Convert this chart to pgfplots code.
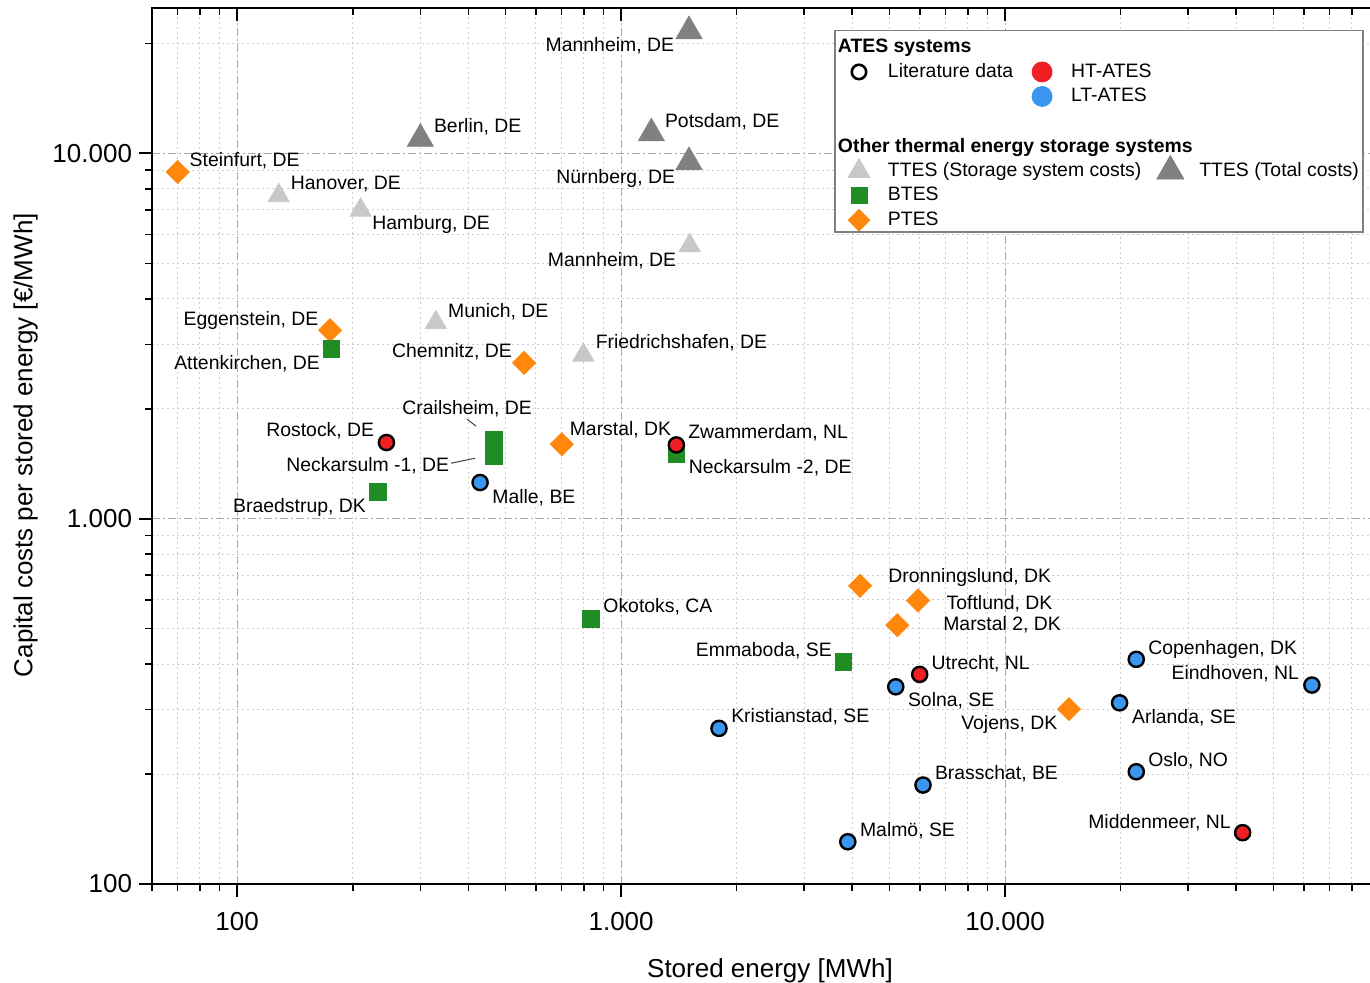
\documentclass[border=0pt]{standalone}
\usepackage{fontspec}
\setmainfont{Liberation Sans}
\usepackage{pgfplots}
\pgfplotsset{compat=1.18}

\definecolor{htred}{RGB}{238,32,36}
\definecolor{ltblue}{RGB}{58,150,240}
\definecolor{ttlight}{RGB}{200,200,200}
\definecolor{ttdark}{RGB}{128,128,128}
\definecolor{btgreen}{RGB}{32,140,36}
\definecolor{ptorange}{RGB}{255,135,12}
\definecolor{majgrid}{RGB}{170,170,170}
\definecolor{mingrid}{RGB}{205,205,205}

\newcommand\lblf{\fontsize{9.7bp}{11.5bp}\selectfont}
\newcommand\axf{\fontsize{13bp}{15.5bp}\selectfont}
\newcommand\lab[6]{\node[anchor=#3,inner sep=0pt,outer sep=0pt,font=\lblf,xshift=#4bp,yshift=#5bp] at (axis cs:#1,#2) {#6};}
\newcommand\blankbox{\path[draw=none,fill=none] (-7.5bp,-6.125bp) rectangle (7.5bp,6.125bp);}

\begin{document}
\begin{tikzpicture}
\begin{axis}[name=ax,
  scale only axis, width=611.5bp, height=438bp,
  xmode=log, ymode=log, xmin=60, xmax=92000, ymin=100, ymax=25000,
  xtick={100,1000,10000}, ytick={100,1000,10000},
  minor xtick={60,70,80,90,200,300,400,500,600,700,800,900,2000,3000,4000,5000,6000,7000,8000,9000,20000,30000,40000,50000,60000,70000,80000,90000},
  minor ytick={200,300,400,500,600,700,800,900,2000,3000,4000,5000,6000,7000,8000,9000,20000},
  major tick length=6.5bp, minor tick length=3.5bp,
  major tick style={black,line width=1bp}, minor tick style={black,line width=0.8bp},
  axis line style={black,line width=1.2bp},
  xtick pos=left, ytick pos=left, tick align=outside,
  xticklabels={100,1.000,10.000}, yticklabels={100,1.000,10.000},
  ticklabel style={font=\axf},
  xticklabel style={yshift=-4bp},
  grid=both,
  major grid style={majgrid, line width=0.5bp, dash pattern=on 4bp off 1.5bp on 1bp off 1.5bp},
  minor grid style={mingrid, line width=0.5bp, dash pattern=on 1bp off 1.5bp},
  xlabel={Stored energy [MWh]}, ylabel={Capital costs per stored energy [€/MWh]},
  label style={font=\axf},
  xlabel style={at={(axis description cs:0.5053,-0.0993)}, anchor=center},
  ylabel style={at={(axis description cs:-0.1034,0.501)}, anchor=center},
  legend cell align=left, legend columns=2,
  legend style={draw=none, fill=none, inner sep=0pt, outer sep=0pt, column sep=4bp, row sep=0pt,
    at={(0.5658,0.9689)}, anchor=north west, font=\lblf,
    nodes={inner xsep=3bp, inner ysep=0pt, text depth=0.15em}},
]
% TTES (storage system costs)
\addplot[forget plot, only marks, mark=triangle*, mark size=6.1bp, color=ttlight] table {
x y
128.3 7661
209.7 6994
1509 5589
329.2 3441
797.7 2805
};
% TTES (total costs)
\addplot[forget plot, only marks, mark=triangle*, mark size=7.5bp, color=ttdark] table {
x y
1503 21605
300 10960
1199 11345
1503 9464
};
% PTES
\addplot[forget plot, only marks, mark=square*, mark size=4.07bp, mark options={rotate=45}, color=ptorange] table {
x y
70 8890
174.6 3280
558.9 2669
700.8 1599
4193 655
5933 597
5242 511
14678 301
};
% BTES
\addplot[forget plot, only marks, mark=square*, mark size=4.2bp, color=btgreen] table {
x y
176 2922
232.5 1182
465.6 1645
465.6 1487
1393 1508
835.5 532
3793 405.7
};
% HT-ATES
\addplot[forget plot, only marks, mark=*, mark size=3.8bp, mark options={fill=htred, draw=black, line width=1.2bp}] table {
x y
244.8 1616
1393 1592
5995 374.8
41590 138.2
};
% LT-ATES
\addplot[forget plot, only marks, mark=*, mark size=3.8bp, mark options={fill=ltblue, draw=black, line width=1.2bp}] table {
x y
429.3 1256
1799 266.7
3895 130.5
5193 346.6
6115 186.6
21976 412
63013 350.4
19886 313.3
21976 202.9
};

% labels TTES
\lab{1503}{21605}{base east}{-7.5}{-9.98}{Mannheim, DE}
\lab{300}{10960}{base west}{6.85}{3.4}{Berlin, DE}
\lab{1199}{11345}{base west}{6.85}{3.1}{Potsdam, DE}
\lab{1503}{9464}{base east}{-7}{-10.5}{Nürnberg, DE}
\lab{128.3}{7661}{base west}{6.1}{3.25}{Hanover, DE}
\lab{209.7}{6994}{base west}{5.9}{-9.9}{Hamburg, DE}
\lab{1509}{5589}{base east}{-6.75}{-10.2}{Mannheim, DE}
\lab{329.2}{3441}{base west}{6.15}{2.8}{Munich, DE}
\lab{797.7}{2805}{base west}{6.2}{3.2}{Friedrichshafen, DE}
% labels PTES
\lab{70}{8890}{base west}{6}{2.85}{Steinfurt, DE}
\lab{174.6}{3280}{base east}{-5.85}{2.5}{Eggenstein, DE}
\lab{558.9}{2669}{base east}{-6.15}{2.7}{Chemnitz, DE}
\lab{700.8}{1599}{base west}{4}{4.5}{Marstal, DK}
\lab{4193}{655}{base west}{14.15}{1.5}{Dronningslund, DK}
\lab{5933}{597}{base west}{14.35}{-4.5}{Toftlund, DK}
\lab{5242}{511}{base west}{23}{-2.85}{Marstal 2, DK}
\lab{14678}{301}{base east}{-5.85}{-10.15}{Vojens, DK}
% labels BTES
\lab{176}{2922}{base east}{-5.8}{-10.5}{Attenkirchen, DE}
\lab{232.5}{1182}{base east}{-6}{-10}{Braedstrup, DK}
\lab{465.6}{1645}{base west}{-45.6}{12.75}{Crailsheim, DE}
\lab{465.6}{1487}{base east}{-22.25}{-7.75}{Neckarsulm -1, DE}
\lab{1393}{1508}{base west}{6.2}{-9.85}{Neckarsulm -2, DE}
\lab{835.5}{532}{base west}{6.15}{3}{Okotoks, CA}
\lab{3793}{405.7}{base east}{-5.8}{2.85}{Emmaboda, SE}
% labels HT-ATES
\lab{244.8}{1616}{base east}{-6.15}{3.15}{Rostock, DE}
\lab{1393}{1592}{base west}{6}{3.2}{Zwammerdam, NL}
\lab{5995}{374.8}{base west}{6}{2.65}{Utrecht, NL}
\lab{41590}{138.2}{base east}{-6}{2.2}{Middenmeer, NL}
% labels LT-ATES
\lab{429.3}{1256}{base west}{6.15}{-10.35}{Malle, BE}
\lab{1799}{266.7}{base west}{6.15}{3}{Kristianstad, SE}
\lab{3895}{130.5}{base west}{6.15}{2.5}{Malmö, SE}
\lab{5193}{346.6}{base west}{6.15}{-10}{Solna, SE}
\lab{6115}{186.6}{base west}{6}{3}{Brasschat, BE}
\lab{21976}{412}{base west}{6}{2.65}{Copenhagen, DK}
\lab{63013}{350.4}{base east}{-6.5}{2.85}{Eindhoven, NL}
\lab{19886}{313.3}{base west}{6.3}{-10.3}{Arlanda, SE}
\lab{21976}{202.9}{base west}{6}{2.85}{Oslo, NO}
% leader lines
\draw[line width=0.5bp, black!75] ([xshift=-13.25bp,yshift=10.25bp]axis cs:465.6,1645) -- ([xshift=-8.75bp,yshift=6.75bp]axis cs:465.6,1645);
\draw[line width=0.5bp, black!75] ([xshift=-21.25bp,yshift=-3.75bp]axis cs:465.6,1487) -- ([xshift=-9.25bp,yshift=-1.25bp]axis cs:465.6,1487);
% legend frame
\draw[fill=white, draw=gray, line width=0.6bp] (rel axis cs:0.5585,0.9741) rectangle (rel axis cs:0.9902,0.7443);

% legend A: ATES systems
\addlegendimage{legend image code/.code={\blankbox}}
\addlegendentry{\makebox[0pt][l]{\hspace*{-25bp}\bfseries ATES systems}}
\addlegendimage{legend image code/.code={\blankbox}}
\addlegendentry{\mbox{}}
\addlegendimage{legend image code/.code={\blankbox\draw[overlay,only marks,mark=*,mark size=3.6bp,mark options={fill=white,draw=black,line width=1.3bp}] plot coordinates {(0bp,0bp)};}}
\addlegendentry{Literature data}
\addlegendimage{legend image code/.code={\blankbox\fill[overlay,htred] (0bp,0bp) circle[radius=5bp];}}
\addlegendentry{HT-ATES}
\addlegendimage{legend image code/.code={\blankbox}}
\addlegendentry{\mbox{}}
\addlegendimage{legend image code/.code={\blankbox\fill[overlay,ltblue] (0bp,0bp) circle[radius=5bp];}}
\addlegendentry{LT-ATES}
\end{axis}

\begin{axis}[at={(ax.south west)}, anchor=south west,
  scale only axis, width=611.5bp, height=438bp,
  xmode=log, ymode=log, xmin=60, xmax=92000, ymin=100, ymax=25000,
  axis x line*=top, axis y line=none,
  xtick={100,1000,10000}, xticklabels={},
  minor xtick={60,70,80,90,200,300,400,500,600,700,800,900,2000,3000,4000,5000,6000,7000,8000,9000,20000,30000,40000,50000,60000,70000,80000,90000},
  major tick length=6.5bp, minor tick length=3.5bp,
  major tick style={black,line width=1bp}, minor tick style={black,line width=0.8bp},
  axis line style={black,line width=1.2bp},
  tick align=inside,
  legend cell align=left, legend columns=2,
  legend style={draw=none, fill=none, inner sep=0pt, outer sep=0pt, column sep=4bp, row sep=0pt,
    at={(0.5658,0.8556)}, anchor=north west, font=\lblf,
    nodes={inner xsep=3bp, inner ysep=0pt, text depth=0.15em}},
]
\addlegendimage{legend image code/.code={\blankbox}}
\addlegendentry{\makebox[0pt][l]{\hspace*{-25bp}\bfseries Other thermal energy storage systems}}
\addlegendimage{legend image code/.code={\blankbox}}
\addlegendentry{\mbox{}}
\addlegendimage{legend image code/.code={\blankbox\draw[overlay,only marks,mark=triangle*,mark size=6.25bp,ttlight] plot coordinates {(0bp,0bp)};}}
\addlegendentry{TTES (Storage system costs)}
\addlegendimage{legend image code/.code={\blankbox\draw[overlay,only marks,mark=triangle*,mark size=7.8bp,ttdark] plot coordinates {(0bp,0bp)};}}
\addlegendentry{TTES (Total costs)}
\addlegendimage{legend image code/.code={\blankbox\draw[overlay,only marks,mark=square*,mark size=4bp,btgreen] plot coordinates {(0bp,0bp)};}}
\addlegendentry{BTES}
\addlegendimage{legend image code/.code={\blankbox}}
\addlegendentry{\mbox{}}
\addlegendimage{legend image code/.code={\blankbox\draw[overlay,only marks,mark=square*,mark size=3.83bp,mark options={rotate=45},ptorange] plot coordinates {(0bp,0bp)};}}
\addlegendentry{PTES}
\addlegendimage{legend image code/.code={\blankbox}}
\addlegendentry{\mbox{}}
\end{axis}
\pgfresetboundingbox
\path ([xshift=-76bp,yshift=-49.5bp]ax.south west) rectangle ([xshift=-2.5bp,yshift=4bp]ax.north east);
\end{tikzpicture}
\end{document}
